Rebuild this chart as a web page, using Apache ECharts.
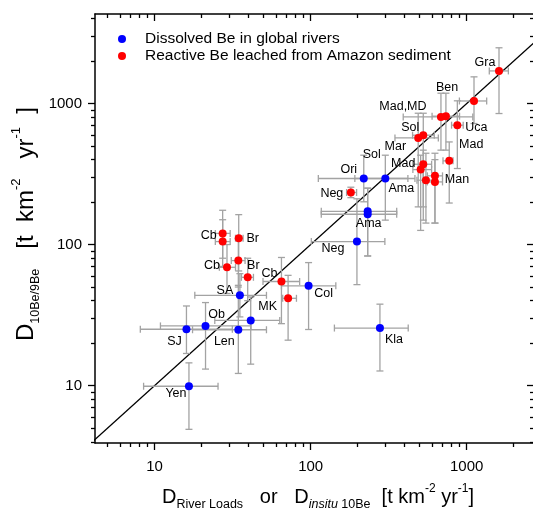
<!DOCTYPE html>
<html><head><meta charset="utf-8">
<script src="https://cdn.jsdelivr.net/npm/echarts@6/dist/echarts.min.js"></script>
<style>html,body{margin:0;padding:0;background:#fff}#c{width:533px;height:516px}</style>
</head><body><div id="c"></div>
<script>
// ---------------- data ----------------
const dissolvedNames = ['Ori','Ama','Ama','Ama','Neg','Col','Kla','SA','MK','Len','Ob','SJ','Yen'];
const dissolvedX     = [219, 301, 232, 232, 198, 97, 278, 35.2, 41.3, 34.4, 21.2, 16, 16.6];
const dissolvedY     = [294, 294, 172, 164, 105, 51, 25.6, 43.7, 29, 24.9, 26.5, 25.1, 9.9];
const dissolvedXLow  = [112, 192, 117, 117, 101, 65, 142, 18.1, 24.3, 17.5, 10.9, 8.1, 8.5];
const dissolvedXHigh = [420, 466, 356, 356, 299, 145, 422, 52.1, 63.4, 52.1, 41.5, 31.5, 25.5];
const dissolvedYLow  = [201, 149, 83, 83, 52, 25, 12.7, 30.7, 14.2, 12.2, 13.1, 16.9, 4.9];
const dissolvedYHigh = [430, 430, 251, 251, 211, 74.5, 37.8, 62.2, 42.5, 51.4, 38.8, 36.7, 14.5];

const reactiveNames = ['Gra','Ben','Mad','MD','Uca','Sol','Sol','Mad','Mad','Mad','Man','Man','Man','Neg','Cb','Cb','Br','Cb','Br','Br','Cb','MK'];
const reactiveX     = [1611, 1114, 684, 736, 871, 489, 527, 773, 527, 507, 548, 626, 626, 181, 27.3, 27.3, 34.6, 29.1, 34.4, 39.5, 65, 71.7];
const reactiveY     = [1702, 1042, 803, 813, 702, 570, 596, 392, 371, 340, 286, 307, 278, 234, 120, 105, 111, 69, 77, 58.6, 54.7, 41.6];
const reactiveXLow  = [1396, 898, 392, 600, 800, 347, 450, 705, 452, 452, 480, 560, 560, 170, 24.5, 24.5, 33, 26, 31, 36, 49.5, 66.2];
const reactiveXHigh = [1850, 1343, 1094, 900, 950, 658, 620, 817, 596, 596, 620, 700, 700, 197, 30.5, 30.5, 36.9, 33, 38, 43, 85, 81.1];
const reactiveYLow  = [849, 721, 467, 467, 346, 185, 185, 197, 149, 126, 142, 142, 142, 215, 80, 70, 65, 45, 50, 40, 27.5, 21];
const reactiveYHigh = [2483, 1545, 1183, 1183, 1045, 853, 853, 534, 467, 430, 444, 444, 400, 255, 175, 150, 163, 100, 110, 80, 81, 60.5];

const seriesNames = ['Dissolved Be in global rivers', 'Reactive Be leached from Amazon sediment'];

// annotations: text, series ('d'/'r'), anchor point index
const labelText   = ['Ori','Sol','Mar','Ama','Ama','Neg','Col','Kla','SA','MK','Len','Ob','SJ','Yen',
                     'Gra','Ben','Mad,MD','Uca','Sol','Mad','Mad','Man','Neg','Cb','Br','Cb','Br','Cb'];
const labelSeries = ['d','d','d','d','d','d','d','d','d','d','d','d','d','d',
                     'r','r','r','r','r','r','r','r','r','r','r','r','r','r'];
const labelIndex  = [0,0,1,1,2,4,5,6,7,8,9,10,11,12, 0,1,2,4,5,7,8,11,13,14,16,17,18,20];
// label placement (pixel offsets from anchor point)
const labelDx = [-15,8,10,16,1,-24,15,14,-15,17,-14,11,-12,-13, -14,-27,-38,19,-8,22,-20,22,-19,-14,14,-15,15,-12];
const labelDy = [-9,-24,-32,10,12,7,8,12,-5,-14,12,-11,12,7, -8,-13,-10,2,-10,-16,-1,4,1,2,0,-2,5,-8];

const majorTicks = [10, 100, 1000];
const minorTicks = [4,5,6,7,8,9,20,30,40,50,60,70,80,90,200,300,400,500,600,700,800,900,2000,3000,4000];
const oneToOne = [4, 5000];

// ---------------- chart ----------------
const FONT = "'Liberation Sans', Arial, sans-serif";
const X_MIN = 4.15, X_MAX = 2700, Y_MIN = 3.92, Y_MAX = 4310;
const gridRect = {left: 95, top: 14, width: 439, height: 429, outerBoundsMode: 'none', containLabel: false};

function axis(kind, gridIndex, position, ticks, len, inside, labels, showLine) {
  const isX = kind === 'x';
  return {
    type: 'log', logBase: 10, gridIndex, position,
    min: isX ? X_MIN : Y_MIN, max: isX ? X_MAX : Y_MAX,
    axisLine: {show: showLine, lineStyle: {color: '#000', width: 1.5}},
    axisTick: {show: true, customValues: ticks, length: len, inside,
               lineStyle: {color: '#000', width: 1.3}},
    axisLabel: labels ? {show: true, customValues: majorTicks, fontSize: 15, fontFamily: FONT,
               color: '#000', margin: isX ? 16 : 13, formatter: v => String(Math.round(v))} : {show: false},
    splitLine: {show: false}, minorTick: {show: false}, minorSplitLine: {show: false}
  };
}

const dissolvedPts = dissolvedX.map((x, i) => [x, dissolvedY[i]]);
const reactivePts = reactiveX.map((x, i) => [x, reactiveY[i]]);
const dissolvedErr = dissolvedX.map((x, i) => [x, dissolvedY[i], dissolvedXLow[i], dissolvedXHigh[i], dissolvedYLow[i], dissolvedYHigh[i]]);
const reactiveErr = reactiveX.map((x, i) => [x, reactiveY[i], reactiveXLow[i], reactiveXHigh[i], reactiveYLow[i], reactiveYHigh[i]]);
const labelData = labelText.map((t, i) => {
  const s = labelSeries[i] === 'd' ? dissolvedPts : reactivePts;
  return s[labelIndex[i]];
});

function renderErr(params, api) {
  const x = api.value(0), y = api.value(1);
  const pL = api.coord([api.value(2), y]), pR = api.coord([api.value(3), y]);
  const pB = api.coord([x, api.value(4)]), pT = api.coord([x, api.value(5)]);
  const c = 3.5;
  const style = {stroke: '#a3a3a3', lineWidth: 1.3, fill: null};
  const seg = (x1, y1, x2, y2) => ({type: 'line', shape: {x1, y1, x2, y2}, style});
  return {type: 'group', children: [
    seg(pL[0], pL[1], pR[0], pR[1]), seg(pL[0], pL[1] - c, pL[0], pL[1] + c), seg(pR[0], pR[1] - c, pR[0], pR[1] + c),
    seg(pB[0], pB[1], pT[0], pT[1]), seg(pB[0] - c, pB[1], pB[0] + c, pB[1]), seg(pT[0] - c, pT[1], pT[0] + c, pT[1])
  ]};
}
function renderLabel(params, api) {
  const p = api.coord([api.value(0), api.value(1)]);
  const i = params.dataIndex;
  return {type: 'text', x: p[0] + labelDx[i], y: p[1] + labelDy[i],
    style: {text: labelText[i], align: 'center', verticalAlign: 'middle',
            font: '12.5px ' + FONT, fill: '#000'}};
}

const chart = echarts.init(document.getElementById('c'), null, {renderer: 'canvas'});
const titleRich = {
  m: {fontSize: 20, fontFamily: FONT, color: '#000', lineHeight: 28, verticalAlign: 'middle'},
  s: {fontSize: 12.5, fontFamily: FONT, color: '#000', lineHeight: 28, verticalAlign: 'bottom'},
  si: {fontSize: 12.5, fontFamily: FONT, fontStyle: 'italic', color: '#000', lineHeight: 28, verticalAlign: 'bottom'},
  p: {fontSize: 12, fontFamily: FONT, color: '#000', lineHeight: 28, verticalAlign: 'top'}
};
const yTitleRich = {
  m: {fontSize: 24, fontFamily: FONT, color: '#000', lineHeight: 32, verticalAlign: 'middle'},
  s: {fontSize: 12.5, fontFamily: FONT, color: '#000', lineHeight: 32, verticalAlign: 'bottom'},
  p: {fontSize: 13, fontFamily: FONT, color: '#000', lineHeight: 32, verticalAlign: 'top'}
};
chart.setOption({
  animation: false,
  backgroundColor: '#fff',
  grid: [Object.assign({}, gridRect), Object.assign({}, gridRect)],
  xAxis: [
    axis('x', 0, 'bottom', majorTicks, 7, false, true, true),
    axis('x', 0, 'top', majorTicks, 7, true, false, true),
    axis('x', 1, 'bottom', minorTicks, 4, false, false, false),
    axis('x', 1, 'top', minorTicks, 4, true, false, false)
  ],
  yAxis: [
    axis('y', 0, 'left', majorTicks, 7, false, true, true),
    axis('y', 0, 'right', majorTicks, 7, true, false, true),
    axis('y', 1, 'left', minorTicks, 4, false, false, false),
    axis('y', 1, 'right', minorTicks, 4, true, false, false)
  ],
  legend: {
    show: true, left: 113, top: 26, orient: 'vertical', itemGap: 1,
    icon: 'circle', itemWidth: 8, itemHeight: 8, selectedMode: false,
    data: seriesNames,
    textStyle: {fontSize: 15.5, fontFamily: FONT, color: '#000', padding: [0, 0, 0, 14]}
  },
  graphic: [
    {type: 'text', x: 318, y: 497, z: 10,
     style: {text: '{m|D}{s|River Loads}{m|   or   D}{si|insitu}{s| 10Be}{m|  [t km}{p|-2}{m| yr}{p|-1}{m|]}', rich: titleRich,
             align: 'center', verticalAlign: 'middle'}},
    {type: 'text', x: 26, y: 224, rotation: Math.PI / 2, z: 10,
     style: {text: '{m|D}{s|10Be/9Be}{m|   [t  km}{p|-2}{m|   yr}{p|-1}{m|  ]}', rich: yTitleRich,
             align: 'center', verticalAlign: 'middle'}}
  ],
  series: [
    {type: 'line', xAxisIndex: 0, yAxisIndex: 0, data: oneToOne.map(v => [v, v]), showSymbol: false,
     lineStyle: {color: '#000', width: 1.3}, clip: true, silent: true, z: 1},
    {type: 'custom', name: 'errD', xAxisIndex: 0, yAxisIndex: 0, data: dissolvedErr, renderItem: renderErr,
     encode: {x: 0, y: 1}, z: 2, silent: true},
    {type: 'custom', name: 'errR', xAxisIndex: 0, yAxisIndex: 0, data: reactiveErr, renderItem: renderErr,
     encode: {x: 0, y: 1}, z: 2, silent: true},
    {type: 'scatter', name: seriesNames[0], xAxisIndex: 0, yAxisIndex: 0, data: dissolvedPts,
     symbol: 'circle', symbolSize: 8, itemStyle: {color: '#0000ff', opacity: 1}, z: 4},
    {type: 'scatter', name: seriesNames[1], xAxisIndex: 0, yAxisIndex: 0, data: reactivePts,
     symbol: 'circle', symbolSize: 8, itemStyle: {color: '#ff0000', opacity: 1}, z: 4},
    {type: 'custom', name: 'labels', xAxisIndex: 0, yAxisIndex: 0, data: labelData, renderItem: renderLabel,
     encode: {x: 0, y: 1}, z: 5, silent: true}
  ]
});
</script></body></html>
